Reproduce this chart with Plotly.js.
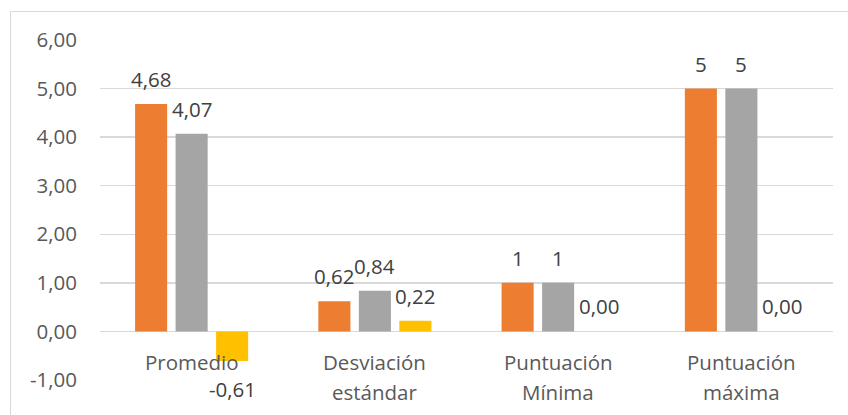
<!DOCTYPE html>
<html>
<head>
<meta charset="utf-8">
<script src="https://cdn.plot.ly/plotly-3.0.1.min.js"></script>
<style>
  html, body { margin: 0; padding: 0; background: #ffffff; overflow: hidden; }
  #marco {
    position: absolute; left: 10px; top: 11px; width: 900px; height: 500px;
    border-left: 1px solid #d9d9d9; border-top: 1px solid #d9d9d9;
  }
  #grafico { position: absolute; left: 0; top: 0; width: 848px; height: 415px; }
</style>
</head>
<body>
<div id="marco"></div>
<div id="grafico"></div>
<script>
// Categorías del eje horizontal (el salto de línea separa las dos líneas de la etiqueta)
const categorias = ["Promedio", "Desviación\nestándar", "Puntuación\nMínima", "Puntuación\nmáxima"];

// Valores de cada serie
const serieNaranja = [4.68, 0.62, 1, 5];
const serieGris = [4.07, 0.84, 1, 5];
const serieAmarilla = [-0.61, 0.22, 0.00, 0.00];

// Marcas del eje vertical
const marcasY = [-1, 0, 1, 2, 3, 4, 5, 6];

// Formato con coma decimal; los enteros se muestran sin decimales salvo en la serie de diferencias
function formato(v, fijo) {
  if (!fijo && Number.isInteger(v)) return String(v);
  return v.toFixed(2).replace('.', ',');
}

const series = [
  { valores: serieNaranja, color: '#ED7D31', fijo: false },
  { valores: serieGris, color: '#A5A5A5', fijo: false },
  { valores: serieAmarilla, color: '#FFC000', fijo: true }
];

const paso = 0.221;      // separación entre barras de un mismo grupo
const anchoBarra = 0.175;
const colorTexto = '#595959';
const tamano = 20.5;
const fuente = '"Open Sans", "Liberation Sans", sans-serif';

const trazas = series.map((s, k) => ({
  type: 'bar',
  x: categorias,
  y: s.valores,
  width: anchoBarra,
  offset: (k - 1) * paso - anchoBarra / 2,
  marker: { color: s.color, line: { width: 0 } },
  hoverinfo: 'skip',
  showlegend: false
}));

const anotaciones = [];
// Etiquetas de datos sobre (o bajo) cada barra
series.forEach((s, k) => {
  s.valores.forEach((v, i) => {
    anotaciones.push({
      xref: 'x', yref: 'y', x: i + (k - 1) * paso, y: v,
      text: formato(v, s.fijo), showarrow: false,
      xanchor: 'center', yanchor: 'middle',
      yshift: v < 0 ? -28 : 25,
      font: { family: fuente, size: tamano, color: '#404040' }
    });
  });
});
// Etiquetas de categoría junto a la línea del cero
categorias.forEach((c, i) => {
  c.split('\n').forEach((linea, j) => {
    anotaciones.push({
      xref: 'x', yref: 'y', x: i, y: 0,
      text: linea, showarrow: false,
      xanchor: 'center', yanchor: 'middle',
      yshift: -31 - 30 * j,
      font: { family: fuente, size: tamano, color: colorTexto }
    });
  });
});

const layout = {
  width: 848, height: 415,
  margin: { l: 100, r: 15, t: 40, b: 35, pad: 0 },
  paper_bgcolor: 'rgba(0,0,0,0)',
  plot_bgcolor: 'rgba(0,0,0,0)',
  barmode: 'group',
  font: { family: fuente, size: tamano, color: colorTexto },
  xaxis: {
    type: 'category', range: [-0.5, categorias.length - 0.5],
    showticklabels: false, showgrid: false, zeroline: false, showline: false, ticks: ''
  },
  yaxis: {
    range: [-1, 6], tickmode: 'array', tickvals: marcasY,
    ticktext: marcasY.map(v => formato(v, true)),
    showgrid: true, gridcolor: '#d9d9d9', gridwidth: 1.5,
    zeroline: true, zerolinecolor: '#d9d9d9', zerolinewidth: 1.5,
    showline: false, ticks: '', ticklabelstandoff: 22,
    tickfont: { family: fuente, size: tamano, color: colorTexto }
  },
  annotations: anotaciones
};

Plotly.newPlot('grafico', trazas, layout, { displayModeBar: false, staticPlot: true });
</script>
</body>
</html>
